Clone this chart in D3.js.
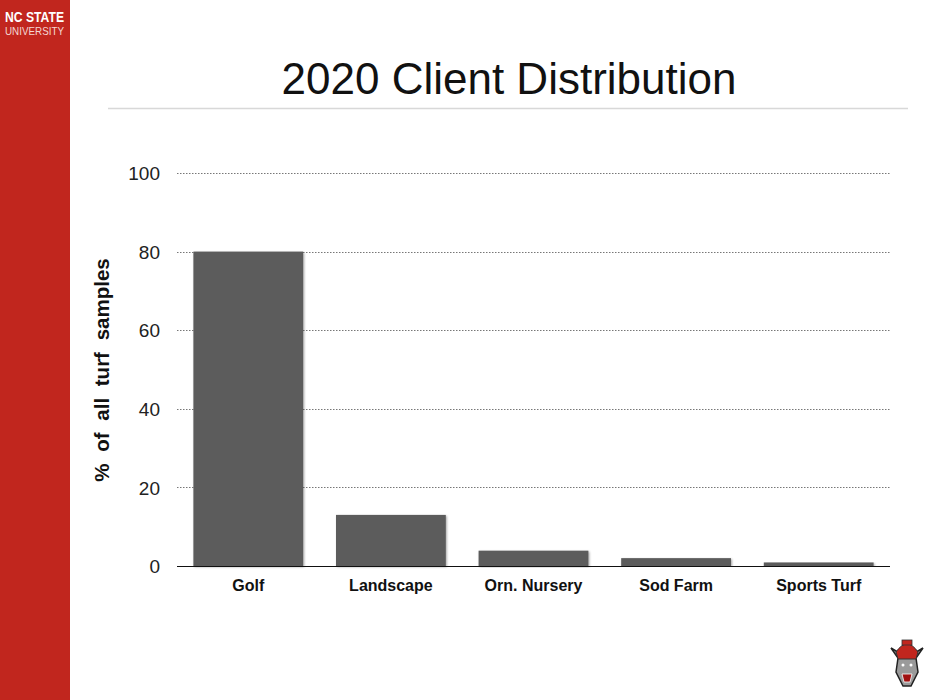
<!DOCTYPE html>
<html><head><meta charset="utf-8">
<script src="https://cdn.jsdelivr.net/npm/d3@7"></script>
<style>body{margin:0;background:#fff;} svg{display:block;font-family:"Liberation Sans",Arial,sans-serif;}</style>
</head><body>
<script>
const categories = ["Golf","Landscape","Orn. Nursery","Sod Farm","Sports Turf"];
const values = [80, 13, 3.9, 2.0, 0.9];
const yTicks = [0,20,40,60,80,100];

const W=933,H=700;
const svg=d3.select("body").append("svg").attr("width",W).attr("height",H);
const defs=svg.append("defs");
const f=defs.append("filter").attr("id","sh").attr("x","-10%").attr("y","-10%").attr("width","120%").attr("height","120%");
f.append("feDropShadow").attr("dx",1).attr("dy",1).attr("stdDeviation",1.2).attr("flood-color","#000").attr("flood-opacity",0.35);

// sidebar
svg.append("rect").attr("x",0).attr("y",0).attr("width",70).attr("height",H).attr("fill","#c1261e");
svg.append("text").attr("x",5).attr("y",22).attr("fill","#fff").attr("font-weight","bold").attr("font-size",14)
  .attr("textLength",59).attr("lengthAdjust","spacingAndGlyphs").text("NC STATE");
svg.append("text").attr("x",5).attr("y",35).attr("fill","#f4d6d3").attr("font-size",11)
  .attr("textLength",59).attr("lengthAdjust","spacingAndGlyphs").text("UNIVERSITY");

// title
svg.append("text").attr("x",509).attr("y",94).attr("text-anchor","middle").attr("font-size",44).attr("fill","#111").text("2020 Client Distribution");
svg.append("line").attr("x1",108).attr("x2",908).attr("y1",108.5).attr("y2",108.5).attr("stroke","#d8d8d8").attr("stroke-width",1.5);

const x=d3.scaleBand().domain(categories).range([177,890]).paddingInner(0.23).paddingOuter(0.115);
const y=d3.scaleLinear().domain([0,100]).range([566,173]);

// grid
svg.append("g").selectAll("line").data(yTicks.filter(d=>d>0)).join("line")
  .attr("x1",177).attr("x2",890).attr("y1",d=>Math.round(y(d))+0.5).attr("y2",d=>Math.round(y(d))+0.5)
  .attr("stroke","#777").attr("stroke-width",1).attr("stroke-dasharray","1.5,1.5");

// y axis labels
const ya=svg.append("g").attr("transform","translate(160,0)").call(d3.axisLeft(y).tickValues(yTicks).tickSize(0).tickPadding(0));
ya.select(".domain").remove();
ya.selectAll("text").attr("font-size",19).attr("fill","#222").attr("font-family","Liberation Sans, Arial, sans-serif").attr("dy","0.35em");

// bars
svg.append("g").selectAll("rect").data(values).join("rect")
  .attr("x",(d,i)=>x(categories[i])).attr("width",x.bandwidth())
  .attr("y",d=>y(d)).attr("height",d=>y(0)-y(d))
  .attr("fill","#5b5b5b").attr("filter","url(#sh)");

// x axis
svg.append("line").attr("x1",177).attr("x2",890).attr("y1",566.5).attr("y2",566.5).attr("stroke","#111").attr("stroke-width",1.2);
const xa=svg.append("g").attr("transform","translate(0,566)").call(d3.axisBottom(x).tickSize(0).tickPadding(14));
xa.select(".domain").remove();
xa.selectAll("text").attr("font-size",16).attr("font-weight","bold").attr("fill","#111").attr("font-family","Liberation Sans, Arial, sans-serif");

// y title
svg.append("text").attr("transform","translate(109,370) rotate(-90)").attr("text-anchor","middle")
  .attr("font-size",20.5).attr("font-weight","bold").attr("fill","#111").attr("word-spacing",6).text("% of all turf samples");

// mascot (simplified)
const m=svg.append("g").attr("transform","translate(907,662)");
m.append("path").attr("d","M-16,-14 L-9,-4 L-11,10 L-4,24 L4,24 L11,10 L9,-4 L16,-14 L6,-8 L-6,-8 Z").attr("fill","#9a9a9a").attr("stroke","#222").attr("stroke-width",1.5);
m.append("path").attr("d","M-11,-10 Q0,-26 11,-10 L9,-3 L-9,-3 Z").attr("fill","#c1261e").attr("stroke","#333").attr("stroke-width",1);
m.append("rect").attr("x",-5).attr("y",-22).attr("width",10).attr("height",5).attr("fill","#c1261e").attr("stroke","#333").attr("stroke-width",0.8);
m.append("circle").attr("cx",-4).attr("cy",3).attr("r",1.5).attr("fill","#fff");
m.append("circle").attr("cx",4).attr("cy",3).attr("r",1.5).attr("fill","#fff");
m.append("path").attr("d","M-5,12 L5,12 L3,20 L-3,20 Z").attr("fill","#a01010").attr("stroke","#fff").attr("stroke-width",0.8);
</script>
</body></html>
